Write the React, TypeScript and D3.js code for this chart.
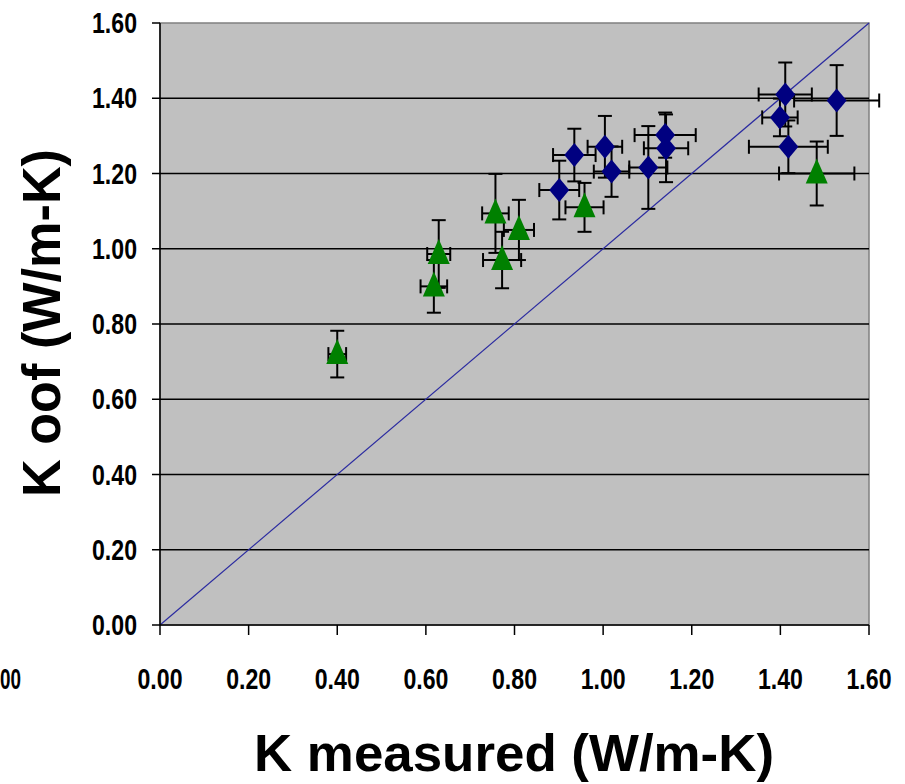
import React from "react";
import * as d3 from "d3";

const xTicks = [0, 0.2, 0.4, 0.6, 0.8, 1.0, 1.2, 1.4, 1.6];
const yTicks = [0, 0.2, 0.4, 0.6, 0.8, 1.0, 1.2, 1.4, 1.6];

// Green triangles
const triMeasured = [0.40, 0.618, 0.629, 0.757, 0.772, 0.81, 0.958, 1.482];
const triOof = [0.72, 0.90, 0.986, 1.094, 0.97, 1.05, 1.11, 1.20];
const triXErr = [0.02, 0.03, 0.026, 0.03, 0.043, 0.034, 0.043, 0.085];
const triYErr = [0.062, 0.07, 0.09, 0.105, 0.075, 0.08, 0.065, 0.085];

// Navy diamonds
const diaMeasured = [0.901, 0.935, 1.004, 1.019, 1.102, 1.14, 1.142, 1.411, 1.527, 1.399, 1.418];
const diaOof = [1.156, 1.249, 1.271, 1.205, 1.216, 1.302, 1.267, 1.41, 1.394, 1.349, 1.271];
const diaXErr = [0.045, 0.048, 0.039, 0.04, 0.043, 0.069, 0.05, 0.06, 0.096, 0.04, 0.089];
const diaYErr = [0.078, 0.07, 0.082, 0.067, 0.11, 0.06, 0.09, 0.085, 0.094, 0.05, 0.07];

const W = 905;
const H = 784;
const L = 160, R = 869, T = 23, B = 625;

const tickFont = "'Liberation Sans Narrow', 'Arial Narrow', 'Liberation Sans', Arial, sans-serif";
const labelFont = "'Liberation Sans', Arial, sans-serif";

export default function App() {
  const x = d3.scaleLinear().domain([0, 1.6]).range([L, R]);
  const y = d3.scaleLinear().domain([0, 1.6]).range([B, T]);
  const fmt = d3.format(".2f");
  const cap = 7;

  const errBars = (xs: number[], ys: number[], xe: number[], ye: number[], key: string) =>
    xs.map((xv, i) => {
      const cx = x(xv), cy = y(ys[i]);
      const x0 = x(xv - xe[i]), x1 = x(xv + xe[i]);
      const y0 = y(ys[i] - ye[i]), y1 = y(ys[i] + ye[i]);
      return (
        <g key={key + i} stroke="#000" strokeWidth={2}>
          <line x1={cx} x2={cx} y1={y0} y2={y1} />
          <line x1={cx - cap} x2={cx + cap} y1={y0} y2={y0} />
          <line x1={cx - cap} x2={cx + cap} y1={y1} y2={y1} />
          <line x1={x0} x2={x1} y1={cy} y2={cy} />
          <line x1={x0} x2={x0} y1={cy - cap} y2={cy + cap} />
          <line x1={x1} x2={x1} y1={cy - cap} y2={cy + cap} />
        </g>
      );
    });

  return (
    <svg width={W} height={H} style={{ position: "absolute", left: 0, top: 0, background: "#fff" }}>
      <rect x={L} y={T} width={R - L} height={B - T} fill="#c0c0c0" stroke="#808080" strokeWidth={1.5} />
      {yTicks.filter(t => t > 0 && t < 1.6).map(t => (
        <line key={"g" + t} x1={L} x2={R} y1={y(t)} y2={y(t)} stroke="#000" strokeWidth={1.5} />
      ))}
      {/* diagonal y = x */}
      <line x1={x(0)} y1={y(0)} x2={x(1.6)} y2={y(1.6)} stroke="#2a2aa0" strokeWidth={1.2} />
      {/* axes */}
      <line x1={L} x2={L} y1={T} y2={B} stroke="#000" strokeWidth={1.5} />
      <line x1={L} x2={R} y1={B} y2={B} stroke="#000" strokeWidth={1.5} />
      {yTicks.map(t => (
        <g key={"yt" + t}>
          <line x1={L - 8} x2={L} y1={y(t)} y2={y(t)} stroke="#000" strokeWidth={1.5} />
          <text x={137} y={y(t) + 10} textAnchor="end" fontFamily={tickFont} fontWeight="bold" fontSize={29}
            textLength={45} lengthAdjust="spacingAndGlyphs" fill="#000">{fmt(t)}</text>
        </g>
      ))}
      {xTicks.map(t => (
        <g key={"xt" + t}>
          <line x1={x(t)} x2={x(t)} y1={B} y2={B + 10} stroke="#000" strokeWidth={1.5} />
          <text x={x(t)} y={689} textAnchor="middle" fontFamily={tickFont} fontWeight="bold" fontSize={29}
            textLength={45} lengthAdjust="spacingAndGlyphs" fill="#000">{fmt(t)}</text>
        </g>
      ))}
      <text x={0} y={689} textAnchor="start" fontFamily={tickFont} fontWeight="bold" fontSize={29}
        textLength={21} lengthAdjust="spacingAndGlyphs" fill="#000">00</text>

      {errBars(diaMeasured, diaOof, diaXErr, diaYErr, "de")}
      {errBars(triMeasured, triOof, triXErr, triYErr, "te")}

      {diaMeasured.map((xv, i) => {
        const cx = x(xv), cy = y(diaOof[i]);
        return <path key={"d" + i} d={`M${cx},${cy - 12}L${cx + 10},${cy}L${cx},${cy + 12}L${cx - 10},${cy}Z`} fill="#000080" />;
      })}
      {triMeasured.map((xv, i) => {
        const cx = x(xv), cy = y(triOof[i]);
        return <path key={"t" + i} d={`M${cx},${cy - 15}L${cx + 11},${cy + 10}L${cx - 11},${cy + 10}Z`} fill="#008000" />;
      })}

      <text x={514} y={771} textAnchor="middle" fontFamily={labelFont} fontWeight="bold" fontSize={52}
        textLength={520} lengthAdjust="spacingAndGlyphs" fill="#000">K measured (W/m-K)</text>
      <text transform="translate(60,323) rotate(-90)" textAnchor="middle" fontFamily={labelFont} fontWeight="bold" fontSize={53}
        textLength={348} lengthAdjust="spacingAndGlyphs" fill="#000">K oof (W/m-K)</text>
    </svg>
  );
}
